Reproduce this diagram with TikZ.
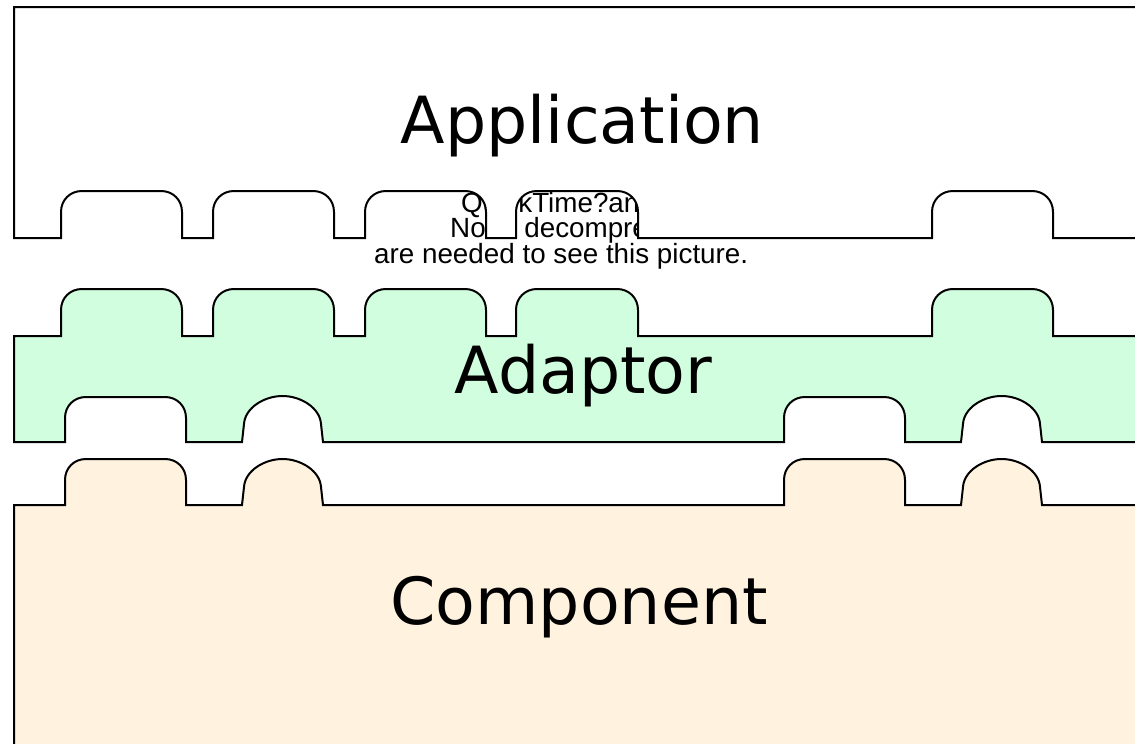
\documentclass[tikz,border=0pt]{standalone}
\usepackage{fontspec}
\newfontfamily\bigfont{DejaVu Sans}
\newfontfamily\qtfont{Liberation Sans}
\definecolor{adaptfill}{RGB}{208,254,222}
\definecolor{compfill}{RGB}{255,243,224}
\tikzset{
  shapeline/.style={draw=black, line width=2pt},
  recttab/.style n args={5}{insert path={-- (#1,#3) -- (#1,{#3-#5+21})
      .. controls (#1,{#3-#5+9}) and ({#1+#4*9},{#3-#5}) .. ({#1+#4*21},{#3-#5})
      -- ({#2-#4*21},{#3-#5})
      .. controls ({#2-#4*9},{#3-#5}) and (#2,{#3-#5+9}) .. (#2,{#3-#5+21})
      -- (#2,#3)}},
  archtab/.style n args={4}{insert path={-- (#1,#3) -- ({#1+#4*2},{#3-18})
      .. controls ({#1+#4*3},{#3-34}) and ({#1+#4*22},{#3-46}) .. ({(#1+#2)/2},{#3-46})
      .. controls ({#2-#4*22},{#3-46}) and ({#2-#4*3},{#3-34}) .. ({#2-#4*2},{#3-18})
      -- (#2,#3)}},
  layertext/.style={font=\bigfont\fontsize{65}{78}\selectfont, anchor=base, inner sep=0pt},
  qttext/.style={font=\qtfont\fontsize{27.8}{30}\selectfont, anchor=base west, inner sep=0pt},
}
\begin{document}
\begin{tikzpicture}[x=1pt,y=-1pt]
\useasboundingbox (0,0) rectangle (1135,744);
\clip (0,0) rectangle (1135,744);
% placeholder text (partly covered by the application shape)
\node[qttext] (qt1) at (461,212) {QuickTime?and a};
\node[qttext] (qt2) at (450,237) {None decompressor};
\node[qttext] (qt3) at (374,263) {are needed to see this picture.};
% application
\path[shapeline, fill=white] (1140,7) -- (14,7) -- (14,238)
  [recttab={61}{182}{238}{1}{47}]
  [recttab={213}{334}{238}{1}{47}]
  [recttab={365}{486}{238}{1}{47}]
  [recttab={516}{638}{238}{1}{47}]
  [recttab={932}{1053}{238}{1}{47}]
  -- (1140,238);
% adaptor
\path[shapeline, fill=adaptfill] (14,442) -- (14,336)
  [recttab={61}{182}{336}{1}{47}]
  [recttab={213}{334}{336}{1}{47}]
  [recttab={365}{486}{336}{1}{47}]
  [recttab={516}{638}{336}{1}{47}]
  [recttab={932}{1053}{336}{1}{47}]
  -- (1140,336) -- (1140,442)
  [archtab={1042}{961}{442}{-1}]
  [recttab={905}{784}{442}{-1}{45}]
  [archtab={323}{242}{442}{-1}]
  [recttab={186}{65}{442}{-1}{45}]
  -- cycle;
% component
\path[shapeline, fill=compfill] (14,750) -- (14,505)
  [recttab={65}{186}{505}{1}{46}]
  [archtab={242}{323}{505}{1}]
  [recttab={784}{905}{505}{1}{46}]
  [archtab={961}{1042}{505}{1}]
  -- (1140,505) -- (1140,750) -- cycle;
% labels
\node[layertext] (app) at (582.5,143) {Application};
\node[layertext] (ada) at (583.5,393) {Adaptor};
\node[layertext] (com) at (579,624) {Component};
\end{tikzpicture}
\end{document}
